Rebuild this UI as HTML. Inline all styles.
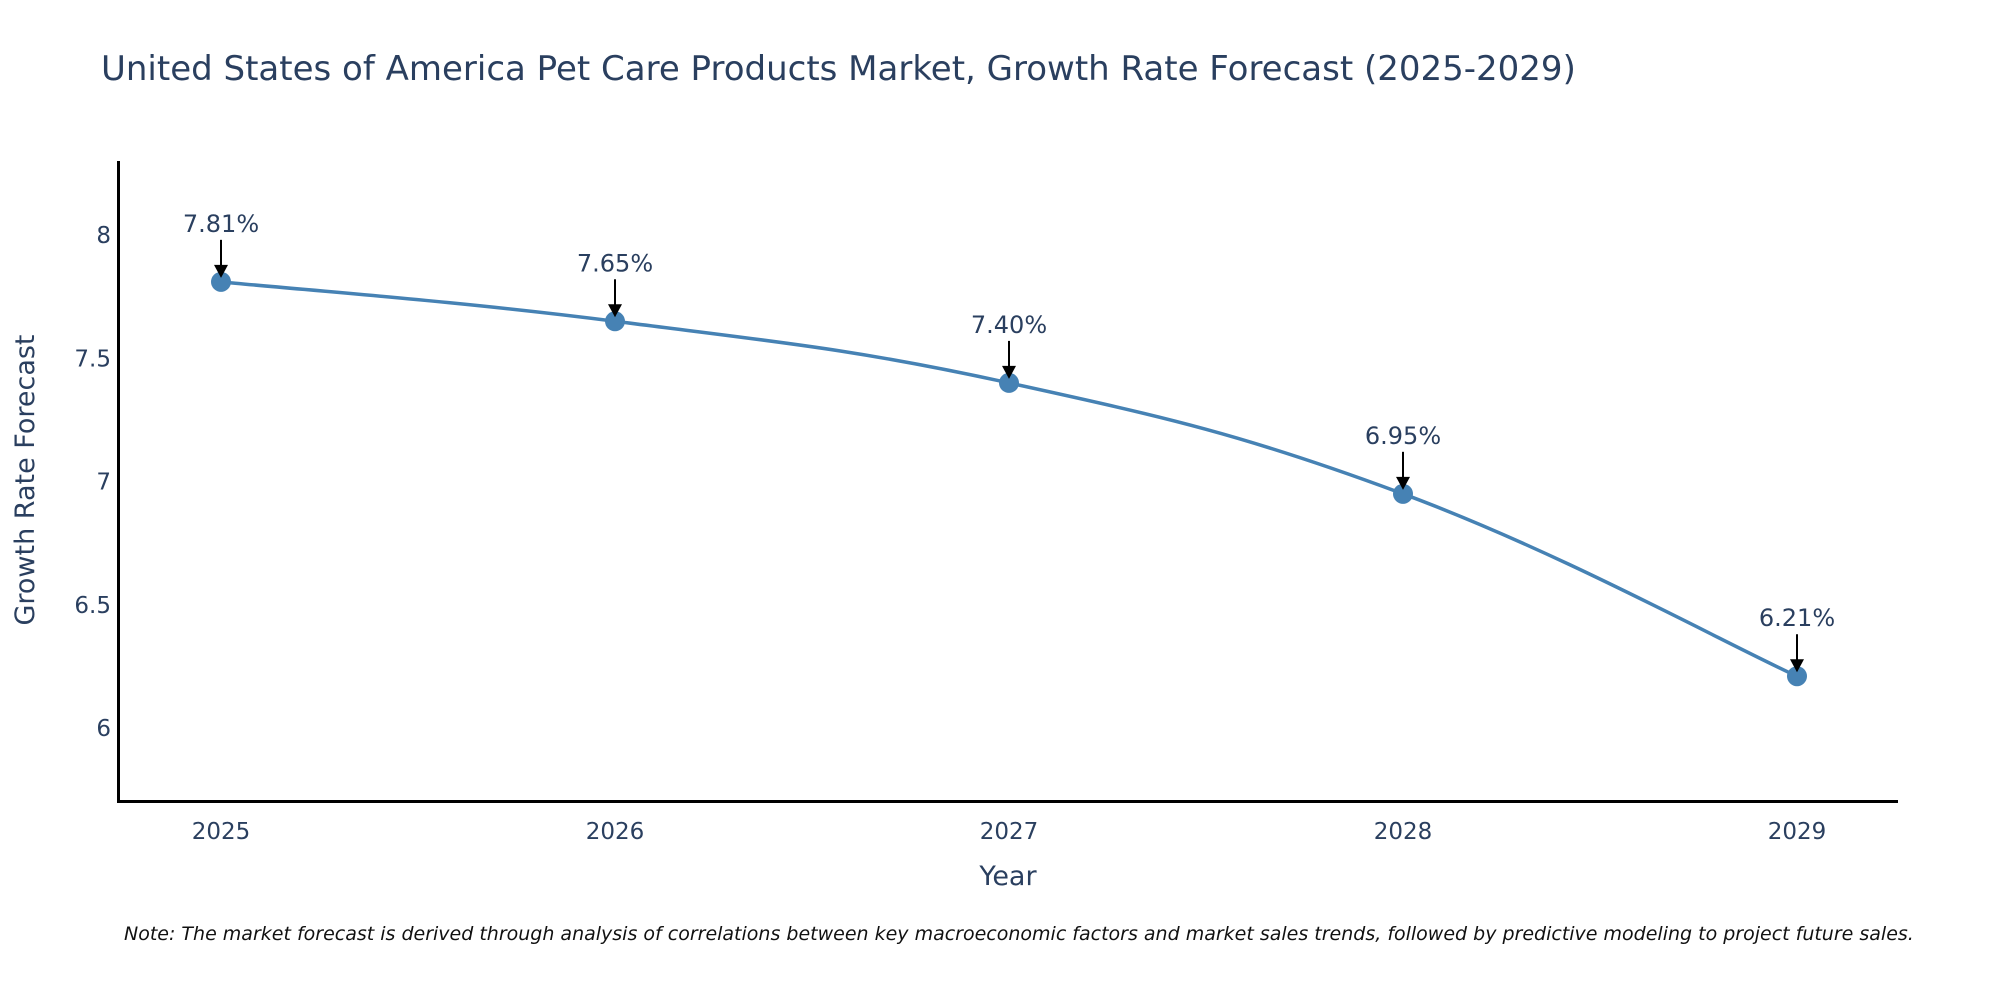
<!DOCTYPE html>
<html><head><meta charset="utf-8"><style>
body{margin:0;background:#fff;}
svg{display:block;font-family:"DejaVu Sans","Liberation Sans",sans-serif;}
</style></head><body>
<svg id="chart" width="2000" height="1000" viewBox="0 0 2000 1000">
<text x="101" y="80" font-size="34" fill="#2a3f5f">United States of America Pet Care Products Market, Growth Rate Forecast (2025-2029)</text>
<g id="yticks"></g>
<g id="xticks"></g>
<text transform="translate(34,480) rotate(-90)" text-anchor="middle" font-size="27" fill="#2a3f5f">Growth Rate Forecast</text>
<text x="1008" y="885" text-anchor="middle" font-size="27" fill="#2a3f5f">Year</text>
<path id="line" fill="none" stroke="#4682b4" stroke-width="3.5"/>
<g id="marks"></g>
<line x1="118.5" y1="161" x2="118.5" y2="802" stroke="#000" stroke-width="3"/>
<line x1="117" y1="801.5" x2="1898" y2="801.5" stroke="#000" stroke-width="3"/>
<text x="124" y="940" font-size="19" font-style="italic" fill="#111">Note: The market forecast is derived through analysis of correlations between key macroeconomic factors and market sales trends, followed by predictive modeling to project future sales.</text>
</svg>
<script>
const years = [2025, 2026, 2027, 2028, 2029];
const growth = [7.81, 7.65, 7.40, 6.95, 6.21];
const labels = ["7.81%", "7.65%", "7.40%", "6.95%", "6.21%"];
const yTicks = [6, 6.5, 7, 7.5, 8];
const yTickLabels = ["6", "6.5", "7", "7.5", "8"];

const NS = "http://www.w3.org/2000/svg";
const x = v => 221 + (v - 2025) * 394;
const y = v => 235 + (8 - v) * 246.5;
function mk(tag, attrs, parent, txt){
  const e = document.createElementNS(NS, tag);
  for (const k in attrs) e.setAttribute(k, attrs[k]);
  if (txt !== undefined) e.textContent = txt;
  parent.appendChild(e); return e;
}
const yt = document.getElementById('yticks');
yTicks.forEach((t,i)=>{
  const e = mk('text',{x:111,y:y(t)+8,'text-anchor':'end','font-size':23,fill:'#2a3f5f'},yt,yTickLabels[i]);
  
  
});
const xt = document.getElementById('xticks');
years.forEach(yr=>{
  const e = mk('text',{x:x(yr),y:839,'text-anchor':'middle','font-size':23,fill:'#2a3f5f'},xt,String(yr));
  
  
});
const pts = years.map((yr,i)=>[x(yr), y(growth[i])]);
let d = `M${pts[0][0]},${pts[0][1]}`;
const s = 0.2;
for (let i=0;i<pts.length-1;i++){
  const p0 = pts[Math.max(i-1,0)], p1 = pts[i], p2 = pts[i+1], p3 = pts[Math.min(i+2,pts.length-1)];
  const c1 = [p1[0]+(p2[0]-p0[0])*s, p1[1]+(p2[1]-p0[1])*s];
  const c2 = [p2[0]-(p3[0]-p1[0])*s, p2[1]-(p3[1]-p1[1])*s];
  d += ` C${c1[0]},${c1[1]} ${c2[0]},${c2[1]} ${p2[0]},${p2[1]}`;
}
document.getElementById('line').setAttribute('d', d);
const mg = document.getElementById('marks');
pts.forEach((p,i)=>{
  const c = mk('circle',{cx:p[0],cy:p[1],r:10,fill:'#4682b4'},mg);
  
  
  const l = mk('line',{x1:p[0],y1:p[1]-42,x2:p[0],y2:p[1]-14,stroke:'#000','stroke-width':2},mg);
  
  
  const h = mk('polygon',{points:`${p[0]-7},${p[1]-17} ${p[0]+7},${p[1]-17} ${p[0]},${p[1]-4}`,fill:'#000'},mg);
  
  
  const t = mk('text',{x:p[0],y:p[1]-50,'text-anchor':'middle','font-size':24,fill:'#2a3f5f'},mg,labels[i]);
  
  
});
</script>
</body></html>
